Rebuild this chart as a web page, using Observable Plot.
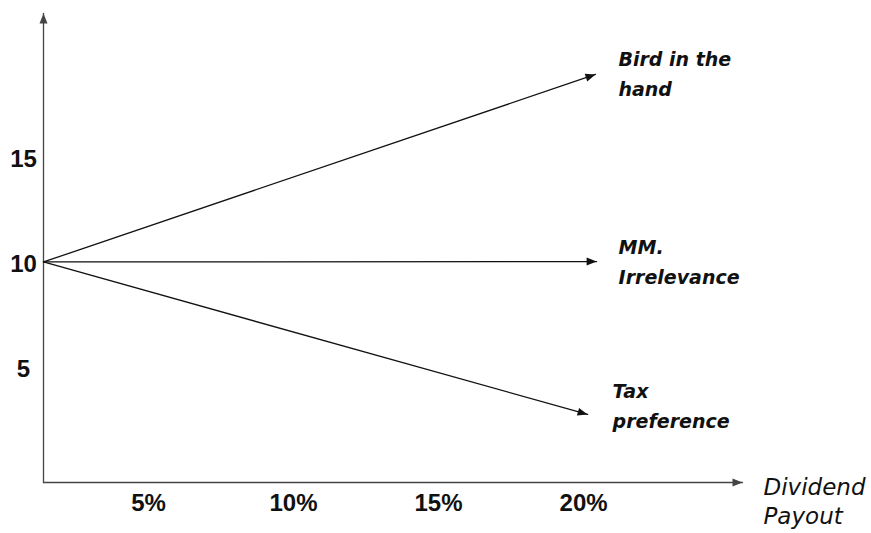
<!DOCTYPE html>
<html>
<head>
<meta charset="utf-8">
<script src="https://cdn.jsdelivr.net/npm/d3@7"></script>
<script src="https://cdn.jsdelivr.net/npm/@observablehq/plot@0.6"></script>
<style>
  html, body { margin: 0; padding: 0; background: #fff; }
  #chart svg { display: block; }
</style>
</head>
<body>
<div id="chart"></div>
<script>
// ---- data ----
const seriesNames = ["Bird in the\nhand", "MM.\nIrrelevance", "Tax\npreference"];
const payoutStart = [1.38, 1.38, 1.38];
const valueStart = [10, 10, 10];
const payoutEnd = [20.41, 20.45, 20.14];
const valueEnd = [18.93, 10.02, 2.74];
const payoutTicks = [5, 10, 15, 20];
const returnTicks = [5, 10, 15];
const payoutDomain = [1.38, 25.48];
const returnDomain = [-0.5, 21.83];
const axisTitle = "Dividend\nPayout";

// ---- build tables ----
const segs = [];
seriesNames.forEach((s, i) => {
  segs.push({s, x: payoutStart[i], y: valueStart[i]});
  segs.push({s, x: payoutEnd[i], y: valueEnd[i]});
});
const axes = [
  {a: "x", x: payoutDomain[0], y: returnDomain[0]},
  {a: "x", x: payoutDomain[1], y: returnDomain[0]},
  {a: "y", x: payoutDomain[0], y: returnDomain[0]},
  {a: "y", x: payoutDomain[0], y: returnDomain[1]}
];
const ends = seriesNames.map((s, i) => ({s, x: payoutEnd[i], y: valueEnd[i]}));
const labelOffsets = [[23, -30], [22, -29], [25, -38]];

const tickFont = {fontFamily: "Liberation Sans", fontWeight: "bold", fontSize: 24, fill: "#111"};
const seriesFont = {fontFamily: "DejaVu Sans", fontWeight: "bold", fontStyle: "italic", fontSize: 19, fill: "#111"};

const chart = Plot.plot({
  width: 871,
  height: 533,
  marginLeft: 43,
  marginRight: 129,
  marginTop: 13,
  marginBottom: 51,
  x: {domain: payoutDomain, axis: null},
  y: {domain: returnDomain, axis: null},
  marks: [
    Plot.line(axes, {x: "x", y: "y", z: "a", stroke: "#444", strokeWidth: 1.3, markerEnd: "arrow"}),
    Plot.line(segs, {x: "x", y: "y", z: "s", stroke: "#111", strokeWidth: 1.3, markerEnd: "arrow"}),
    ...ends.map((e, i) => Plot.text([e], {
      x: "x", y: "y", text: "s",
      textAnchor: "start", lineAnchor: "top", lineHeight: 1.58,
      dx: labelOffsets[i][0], dy: labelOffsets[i][1],
      ...seriesFont
    })),
    Plot.text(returnTicks, {x: payoutDomain[0], y: d => d, text: d => String(d), dx: -20, dy: 2, textAnchor: "middle", ...tickFont}),
    Plot.text(payoutTicks, {x: d => d, y: returnDomain[0], text: d => d + "%", dy: 21, textAnchor: "middle", ...tickFont}),
    Plot.text([axisTitle], {
      x: payoutDomain[1], y: returnDomain[0], text: d => d,
      textAnchor: "start", lineAnchor: "top", lineHeight: 1.26, dx: 21, dy: -8,
      fontFamily: "DejaVu Sans", fontStyle: "italic", fontSize: 23, fill: "#111"
    })
  ]
});

for (const m of chart.querySelectorAll("marker")) {
  m.setAttribute("viewBox", "-10 -5 10 10");
  m.setAttribute("markerUnits", "userSpaceOnUse");
  m.setAttribute("markerWidth", 10);
  m.setAttribute("markerHeight", 10);
  m.setAttribute("fill", m.getAttribute("stroke") || "#111");
  m.setAttribute("stroke", "none");
  m.setAttribute("overflow", "visible");
  const p = m.querySelector("path");
  if (p) p.setAttribute("d", "M-10,-4L0,0L-10,4Z");
}
document.getElementById("chart").appendChild(chart);
</script>
</body>
</html>
